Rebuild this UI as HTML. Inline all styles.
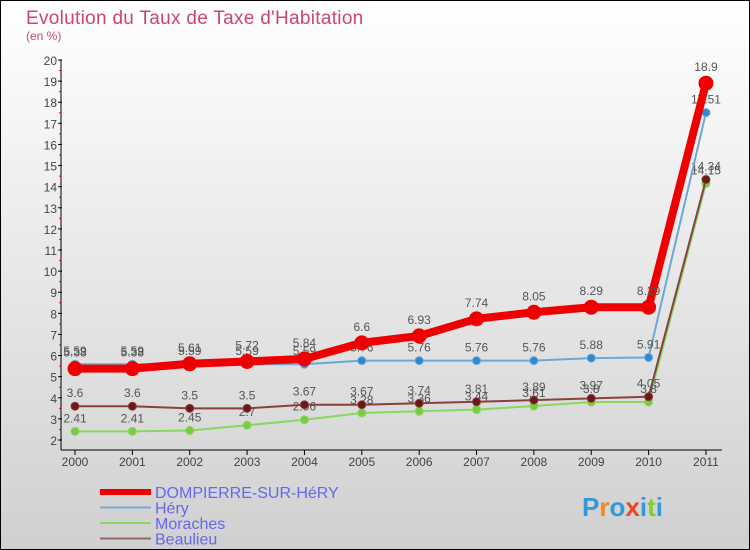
<!DOCTYPE html>
<html><head><meta charset="utf-8"><style>
body{margin:0}
#c{width:750px;height:550px;position:relative;box-sizing:border-box;border:1px solid #000;background:linear-gradient(#fff,#d0d0d0);overflow:hidden;font-family:"Liberation Sans",sans-serif}
</style></head><body>
<div id="c">
<svg id="s" width="750" height="550" style="position:absolute;left:-1px;top:-1px">
<text x="26" y="24" font-size="19" fill="#cc4477" letter-spacing="0.3">Evolution du Taux de Taxe d'Habitation</text>
<text x="26" y="40" font-size="12" fill="#cc4477">(en %)</text>
</svg>
</div>
<script>
const years=['2000','2001','2002','2003','2004','2005','2006','2007','2008','2009','2010','2011'];
const dompierre=[5.38,5.38,5.61,5.72,5.84,6.6,6.93,7.74,8.05,8.29,8.29,18.9];
const hery=[5.59,5.59,5.59,5.59,5.59,5.76,5.76,5.76,5.76,5.88,5.91,17.51];
const moraches=[2.41,2.41,2.45,2.7,2.96,3.28,3.36,3.44,3.61,3.8,3.8,14.15];
const beaulieu=[3.6,3.6,3.5,3.5,3.67,3.67,3.74,3.81,3.89,3.97,4.05,14.34];
const yTicks=[2,3,4,5,6,7,8,9,10,11,12,13,14,15,16,17,18,19,20];
const NS='http://www.w3.org/2000/svg';
const s=document.getElementById('s');
const X=i=>75+i*57.36, Y=v=>440-(v-2)*380/18;
function el(t,a,p){const e=document.createElementNS(NS,t);for(const k in a)e.setAttribute(k,a[k]);(p||s).appendChild(e);return e;}
const ax=el('g',{});


el('line',{x1:61,y1:60,x2:61,y2:450,stroke:'#000','stroke-width':1},ax);
el('line',{x1:61,y1:450,x2:722,y2:450,stroke:'#000','stroke-width':1},ax);
yTicks.forEach(v=>{
  el('line',{x1:58,y1:Y(v),x2:62,y2:Y(v),stroke:'#000'},ax);
  if(v<20)el('line',{x1:59,y1:Y(v+0.5),x2:61,y2:Y(v+0.5),stroke:'#e00'},ax);
  const t=el('text',{x:57,y:Y(v)+5,'text-anchor':'end','font-size':12,fill:'#444'},ax);t.textContent=v;
  
  
});
years.forEach((y,i)=>{
  el('line',{x1:X(i),y1:450,x2:X(i),y2:455,stroke:'#000'},ax);
  const t=el('text',{x:X(i),y:466,'text-anchor':'middle','font-size':12,fill:'#444'},ax);t.textContent=y;
  
  
});
function series(name,data,color,w,r,dot){
  const g=el('g',{});
  
  
  el('polyline',{points:data.map((v,i)=>X(i)+','+Y(v)).join(' '),fill:'none',stroke:color,'stroke-width':w,'stroke-linejoin':'round'},g);
  data.forEach((v,i)=>{
    const c=el('circle',{cx:X(i),cy:Y(v),r:r,fill:dot,stroke:color,'stroke-width':1},g);
    
    
    const t=el('text',{x:X(i),y:Y(v)-(r+5),'text-anchor':'middle','font-size':12,fill:'#555'},g);t.textContent=v;
    
    
  });
}
series('moraches',moraches,'#88d860',2,4,'#77cc44');
series('beaulieu',beaulieu,'#8a4040',2,4,'#6a1818');
series('hery',hery,'#6aa8d8',2,4,'#3388cc');
series('dompierre',dompierre,'#ee0000',8,7,'#ee0000');
const lg=[['DOMPIERRE-SUR-HéRY','#ee0000',6],['Héry','#7aaad0',2],['Moraches','#88d860',2],['Beaulieu','#996666',2]];
lg.forEach((l,i)=>{
  const g=el('g',{});
  
  
  const y=492+i*15.5;
  el('line',{x1:100,y1:y,x2:151,y2:y,stroke:l[1],'stroke-width':l[2]},g);
  const t=el('text',{x:155,y:y+6,'font-size':16,fill:'#6666ee'},g);t.textContent=l[0];
});
const p=el('text',{x:582,y:516,'font-size':26,'font-weight':'bold'});


const cols=['#3399dd','#ee8822','#3399dd','#ee4422','#3399dd','#88cc33','#3399dd'];
'Proxiti'.split('').forEach((ch,i)=>{const sp=el('tspan',{fill:cols[i]},p);sp.textContent=ch;});
</script>
</body></html>
